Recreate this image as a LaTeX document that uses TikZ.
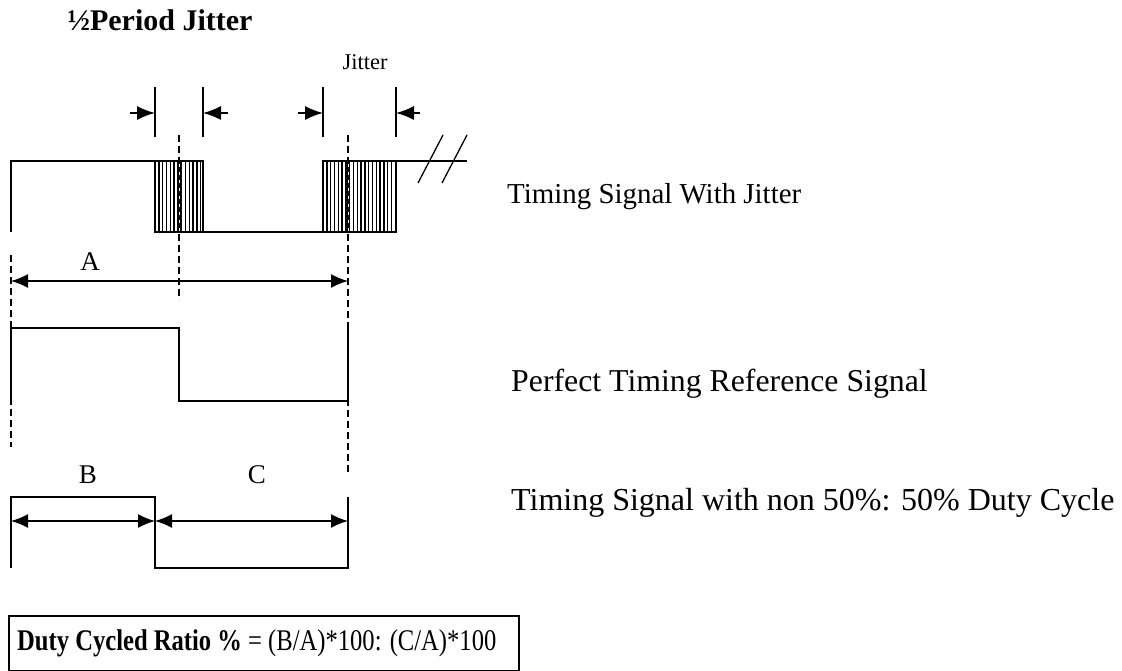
\documentclass[tikz,border=0pt]{standalone}
\usepackage{fontspec}
\setmainfont{Liberation Serif}
\usepackage{graphicx}
\usetikzlibrary{arrows.meta}
\begin{document}
\begin{tikzpicture}[x=1pt,y=-1pt,
	sig/.style={line width=1.8pt},
	hatch/.style={line width=1.4pt},
	guide/.style={line width=1.5pt,dash pattern=on 7pt off 4pt},
	dim/.style={line width=1.5pt,{Latex[length=17pt,width=14pt]}-{Latex[length=17pt,width=14pt]}},
	jit/.style={line width=1.5pt,-{Latex[length=18pt,width=14pt]}},
	lbl/.style={font=\fontsize{27}{30}\selectfont,inner sep=0pt},
	desc/.style={anchor=base west,inner sep=0pt},
]
	\useasboundingbox (0,0) rectangle (1122,671);
	\node[inner sep=0pt,font=\fontsize{30}{34}\selectfont\bfseries] (title) at (160,20) {½Period Jitter};
	\node[inner sep=0pt,font=\fontsize{22.5}{26}\selectfont] (jitter) at (365,62) {Jitter};
	% signal with jitter
	\draw[sig] (11,232) -- (11,161) -- (155,161);
	\draw[sig] (203,232) -- (323,232);
	\draw[sig] (396,161) -- (467,161);
	\foreach \x in {158.8,162.6,...,201} \draw[hatch] (\x,161) -- (\x,232);
	\foreach \x in {326.8,330.6,...,394} \draw[hatch] (\x,161) -- (\x,232);
	\draw[sig] (155,161) rectangle (203,232);
	\draw[sig] (323,161) rectangle (396,232);
	\draw[line width=1.3pt] (418,183) -- (443,135);
	\draw[line width=1.3pt] (442,183) -- (467,135);
	% jitter markers
	\foreach \x in {155,203,323,396} \draw[line width=1.5pt] (\x,87) -- (\x,137);
	\draw[jit] (130,113) -- (155,113);
	\draw[jit] (228,113) -- (203,113);
	\draw[jit] (298,113) -- (323,113);
	\draw[jit] (420,113) -- (396,113);
	% guide lines
	\draw[guide] (179,135) -- (179,300);
	\draw[guide] (348,135) -- (348,472);
	\draw[guide] (11,255) -- (11,447);
	\draw[line width=3.4pt] (179,161) -- (179,232);
	\draw[line width=3.4pt] (348,161) -- (348,232);
	\draw[white,line width=1pt,dash pattern=on 3pt off 5pt] (179,164) -- (179,232);
	\draw[white,line width=1pt,dash pattern=on 3pt off 5pt] (348,164) -- (348,232);
	% A
	\node[lbl] (A) at (90,262) {A};
	\draw[dim] (11,281) -- (348,281);
	% perfect signal
	\draw[sig] (11,403) -- (11,328) -- (179,328) -- (179,401) -- (348,401) -- (348,328);
	% non 50% signal
	\node[lbl] (B) at (88,475) {B};
	\node[lbl] (C) at (257,475) {C};
	\draw[sig] (11,568) -- (11,497) -- (155,497) -- (155,568) -- (348,568) -- (348,497);
	\draw[dim] (11,521) -- (155,521);
	\draw[dim] (155,521) -- (348,521);
	% descriptions
	\node[desc,font=\fontsize{28.9}{33}\selectfont] (t1) at (507,204) {Timing Signal With Jitter};
	\node[desc,font=\fontsize{31.8}{36}\selectfont] (t2) at (511,391) {Perfect Timing Reference Signal};
	\node[desc,font=\fontsize{32}{36}\selectfont] (t3) at (511,510) {Timing Signal with non 50\%: 50\% Duty Cycle};
	% ratio box
	\node[draw,line width=1.5pt,anchor=north west,minimum width=510pt,minimum height=55pt] (ratio) at (8,615) {};
	\node[anchor=west,inner sep=0pt,font=\fontsize{30}{34}\selectfont] (ratiotext) at ([xshift=9pt]ratio.west) {\scalebox{0.82}[1]{\textbf{Duty Cycled Ratio \%} = (B/A)*100: (C/A)*100}};
\end{tikzpicture}
\end{document}
